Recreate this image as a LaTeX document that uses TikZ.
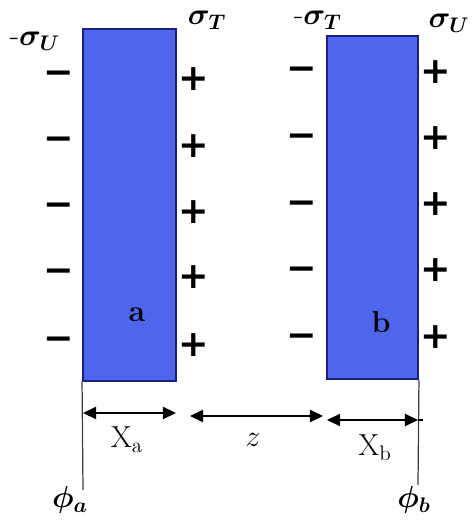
\documentclass[tikz,border=0pt]{standalone}
\usepackage{amsmath}
\usepackage{bm}
\usepackage{fontspec}
\newfontfamily\signfont{DejaVu Sans}
\usepackage{tikz}
\usetikzlibrary{positioning, arrows.meta}
\definecolor{PlateBlue}{RGB}{78,102,236}
\definecolor{PlateEdge}{RGB}{28,30,130}
\definecolor{WallGrey}{RGB}{70,55,70}

\begin{document}
\begin{tikzpicture}[x=0.02cm, y=-0.02cm,
          plate/.style={rectangle, draw=PlateEdge, fill=PlateBlue,
                        line width=1.1pt, inner sep=0pt},
          sign/.style={font=\signfont\huge\bfseries, inner sep=0pt},
          neg/.style={sign, yshift=-3.4pt},
          lbl/.style={font=\LARGE, inner sep=0pt},
          dim/.style={{Triangle[length=7.5pt,width=7pt]}-{Triangle[length=7.5pt,width=7pt]},
                      line width=0.9pt, black}
        ]
        \useasboundingbox (0,0) rectangle (472,521);

        % plates
        \node[plate, minimum width=1.86cm, minimum height=7.04cm]
              (pa) at (129.5,205) {};
        \node[plate, minimum width=1.82cm, minimum height=6.86cm]
              (pb) at (372.5,207.5) {};
        \node[font=\LARGE\bfseries] (na) at (137,315) {a};
        \node[font=\LARGE\bfseries] (nb) at (381,322) {b};

        % surface charges
        \node[lbl] (sua) at (35,41) {-$\bm{\sigma}_{\bm{U}}$};
        \node[lbl] (sta) at (207,20) {$\bm{\sigma}_{\bm{T}}$};
        \node[lbl] (stb) at (318,20) {-$\bm{\sigma}_{\bm{T}}$};
        \node[lbl] (sub) at (449,23) {$\bm{\sigma}_{\bm{U}}$};

        \foreach \y in {72, 138, 204, 270, 338} {
          \node[neg] at (59,\y) {−};
        }
        \foreach \y in {79, 146, 212, 277, 345} {
          \node[sign] at (194,\y) {+};
        }
        \foreach \y in {68, 135, 202, 268, 335} {
          \node[neg] at (302,\y) {−};
        }
        \foreach \y in {72, 138, 204, 270, 337} {
          \node[sign] at (436,\y) {+};
        }

        % walls and potentials
        \node[font=\LARGE] (pha) at (70,500) {$\bm{\phi_a}$};
        \node[font=\LARGE] (phb) at (414,500) {$\bm{\phi_b}$};
        \coordinate (wa) at (83,490);
        \coordinate (wb) at (418,485);
        \draw[WallGrey, line width=0.7pt] (pa.south west) -- (wa);
        \draw[WallGrey, line width=0.7pt] (pb.south east) -- (wb);

        % distances
        \coordinate (xa1) at (83,413);
        \coordinate (xa2) at (176,413);
        \coordinate (z1) at (190,416);
        \coordinate (z2) at (323,416);
        \coordinate (xb1) at (327,420);
        \coordinate (xb2) at (418,420);
        \coordinate (xb3) at (423,420);
        \draw[dim] (xa1) -- (xa2);
        \draw[dim] (z1) -- (z2);
        \draw[dim] (xb1) -- (xb2);
        \draw[line width=0.9pt] (xb2) -- (xb3);
        \node[lbl] (dxa) at (127,440) {X$_{\text{a}}$};
        \node[lbl] (dz) at (253,440) {$z$};
        \node[lbl] (dxb) at (375,448) {X$_{\text{b}}$};
      \end{tikzpicture}
\end{document}
